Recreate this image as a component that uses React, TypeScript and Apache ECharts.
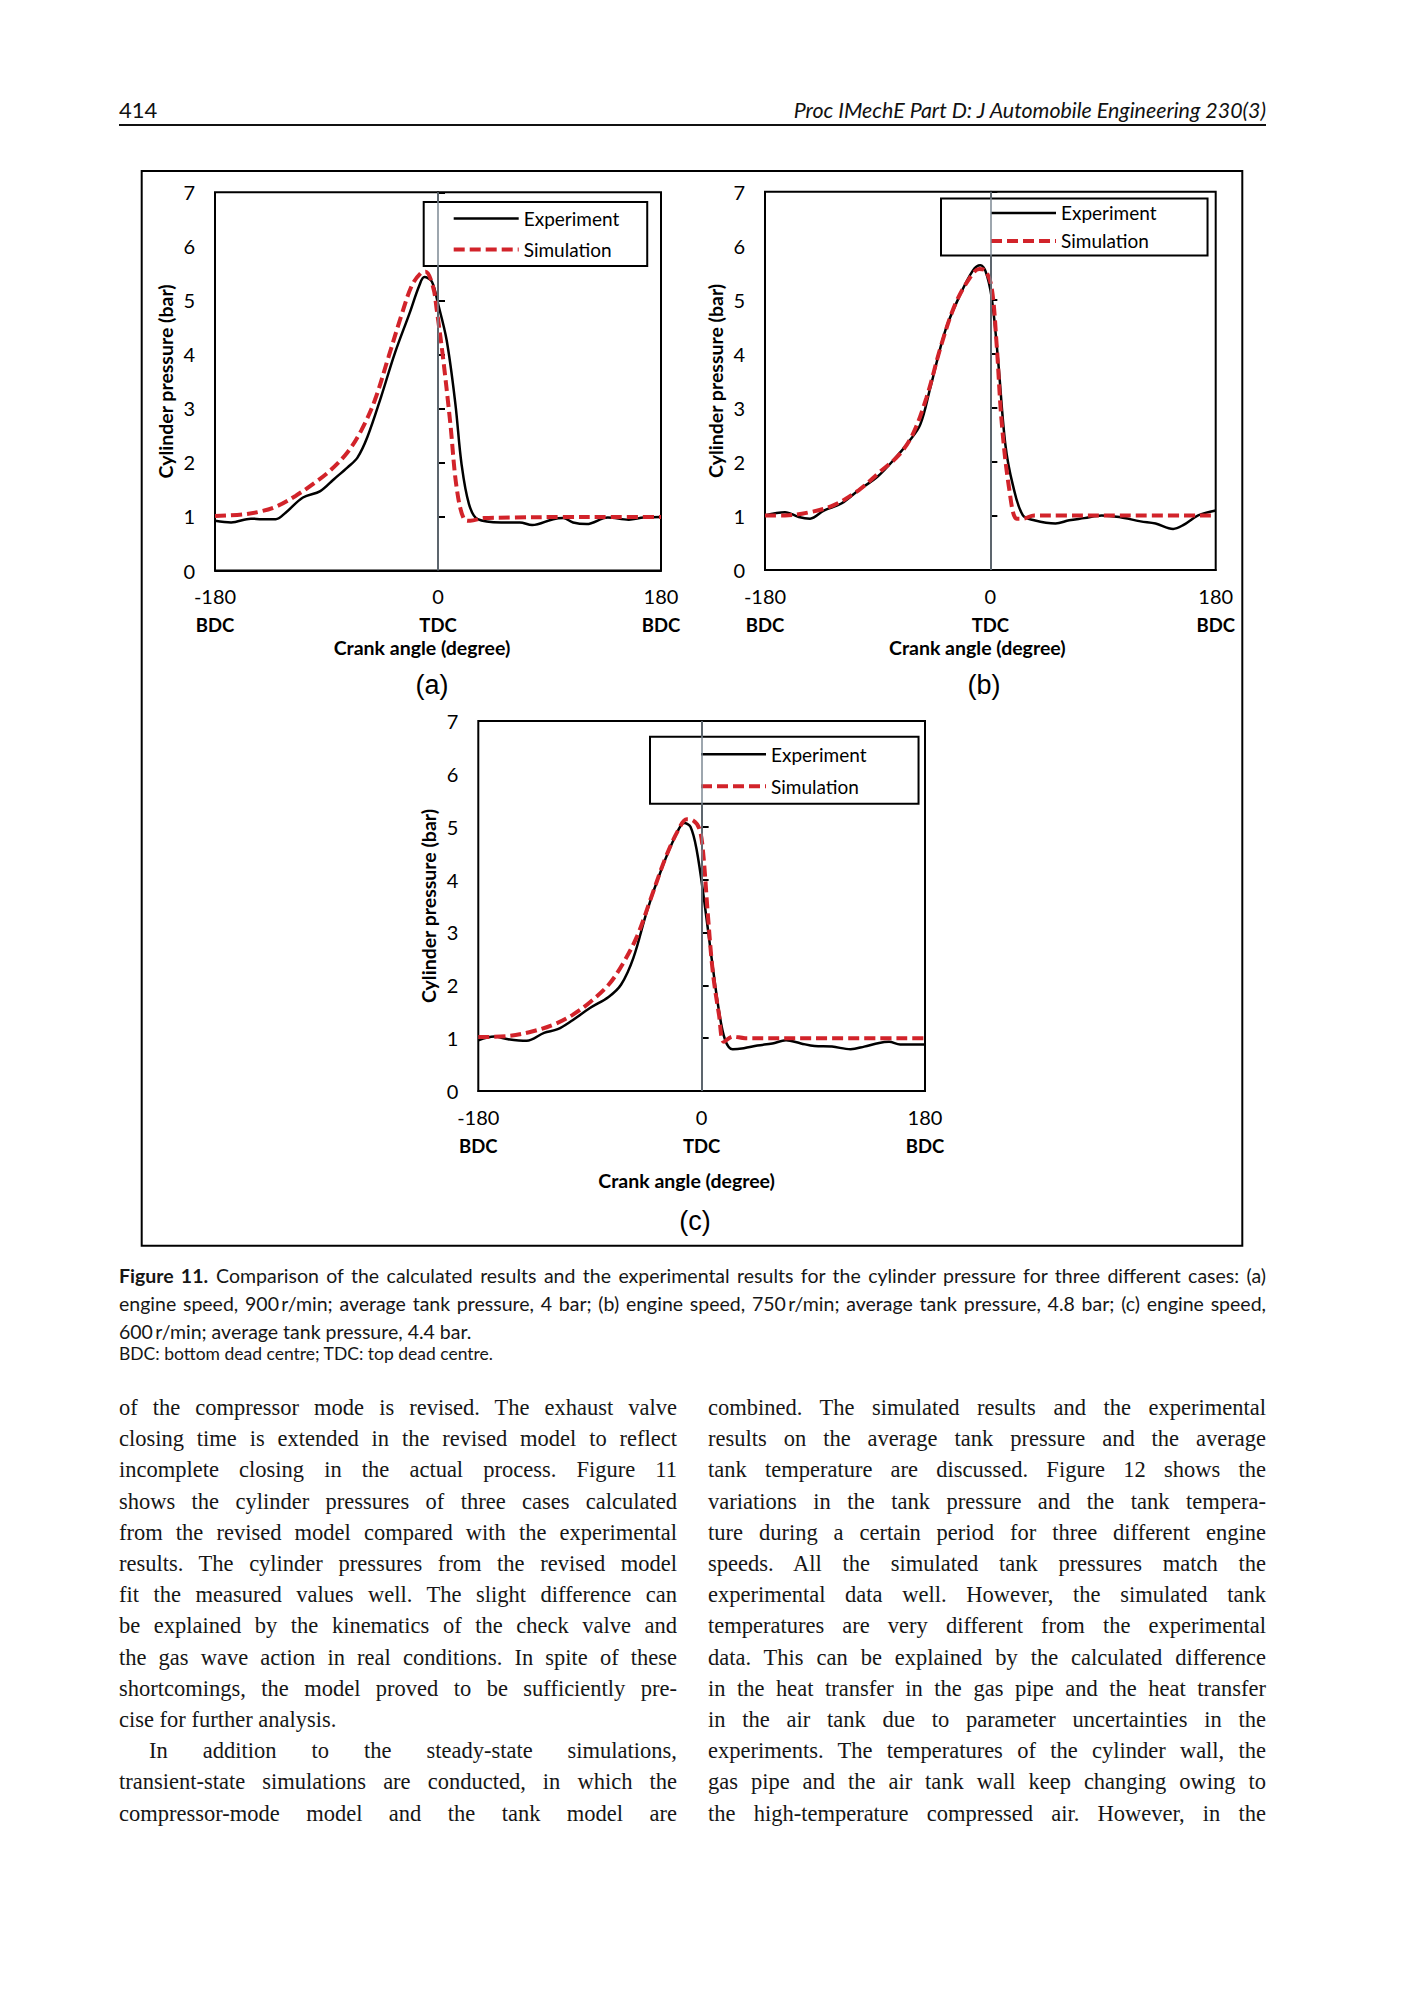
import React, { useEffect, useRef } from "react";
import * as echarts from "echarts";

// ---------- data ----------
const SERIES_NAMES = ["Experiment", "Simulation"];
const X_TICKS = [-180, 0, 180];
const X_TICK_NOTES = ["BDC", "TDC", "BDC"];
const PANEL_LABELS = ["(a)", "(b)", "(c)"];
const X_NAME = "Crank angle (degree)";
const Y_NAME = "Cylinder pressure (bar)";

// (a) 900 r/min
const expAngleA = [-180, -167, -151, -142, -131, -123, -109, -95, -84, -73, -65, -57, -46, -35, -23, -15, -11, -5, 0, 7, 14, 19, 25, 32, 51, 66, 76, 93, 101, 109, 120, 137, 154, 166, 180];
const expValueA = [0.92, 0.89, 0.96, 0.95, 0.95, 1.07, 1.35, 1.47, 1.69, 1.91, 2.09, 2.47, 3.21, 4.01, 4.76, 5.28, 5.43, 5.35, 4.94, 4.26, 3.09, 1.97, 1.23, 0.95, 0.89, 0.89, 0.84, 0.95, 0.97, 0.89, 0.86, 0.98, 0.94, 0.98, 0.99];
const simAngleA = [-180, -157, -142, -129, -115, -101, -87, -73, -62, -51, -40, -29, -21, -14, -10, -4, -1, 4, 10, 15, 21, 26, 37, 60, 100, 140, 180];
const simValueA = [1.01, 1.04, 1.1, 1.2, 1.38, 1.6, 1.85, 2.19, 2.59, 3.15, 3.95, 4.76, 5.28, 5.5, 5.53, 5.25, 4.82, 3.95, 2.71, 1.54, 0.95, 0.92, 0.97, 0.98, 0.99, 0.99, 0.99];

// (b) 750 r/min
const expAngleB = [-180, -164, -153, -144, -133, -119, -105, -90, -76, -65, -56, -48, -36, -25, -14, -8, -4, 1, 6, 12, 18, 26, 35, 52, 63, 75, 89, 103, 120, 132, 146, 154, 166, 180];
const expValueB = [1.01, 1.07, 0.98, 0.95, 1.1, 1.23, 1.48, 1.73, 2.07, 2.38, 2.69, 3.37, 4.43, 5.05, 5.54, 5.64, 5.54, 5.05, 3.93, 2.32, 1.57, 1.01, 0.92, 0.86, 0.92, 0.96, 1.01, 0.98, 0.9, 0.86, 0.76, 0.83, 1.01, 1.1];
const simAngleB = [-180, -164, -144, -125, -105, -88, -73, -62, -51, -39, -28, -16, -9, -4, 1, 5, 9, 15, 21, 26, 35, 60, 120, 180];
const simValueB = [1.01, 1.01, 1.07, 1.2, 1.48, 1.82, 2.13, 2.51, 3.19, 4.18, 4.92, 5.42, 5.57, 5.54, 5.23, 4.18, 2.75, 1.51, 0.95, 0.95, 1.01, 1.01, 1.01, 1.01];

// (c) 600 r/min
const expAngleC = [-180, -167, -156, -141, -127, -116, -104, -90, -75, -65, -55, -44, -32, -21, -14, -9, -4, 2, 8, 14, 19, 25, 34, 45, 57, 68, 80, 91, 105, 120, 131, 143, 151, 160, 180];
const expValueC = [0.96, 1.03, 0.98, 0.95, 1.1, 1.17, 1.34, 1.57, 1.78, 2.01, 2.52, 3.41, 4.22, 4.83, 5.07, 5.0, 4.56, 3.61, 2.52, 1.51, 0.96, 0.79, 0.81, 0.86, 0.9, 0.96, 0.9, 0.85, 0.84, 0.79, 0.84, 0.91, 0.93, 0.88, 0.88];
const simAngleC = [-180, -156, -136, -118, -104, -90, -75, -64, -52, -41, -29, -19, -12, -7, -2, 1, 5, 9, 14, 18, 25, 35, 90, 180];
const simValueC = [1.02, 1.04, 1.13, 1.27, 1.44, 1.68, 2.01, 2.39, 2.93, 3.64, 4.42, 4.93, 5.14, 5.12, 4.97, 4.56, 3.34, 2.25, 1.44, 0.93, 1.03, 1.0, 1.0, 1.0];

const HEADER_LEFT = "414";
const HEADER_RIGHT = "Proc IMechE Part D: J Automobile Engineering 230(3)";
const CAPTION_LINES = [
  "Comparison of the calculated results and the experimental results for the cylinder pressure for three different cases: (a)",
  "engine speed, 900\u2009r/min; average tank pressure, 4 bar; (b) engine speed, 750\u2009r/min; average tank pressure, 4.8 bar; (c) engine speed,",
  "600\u2009r/min; average tank pressure, 4.4 bar.",
];
const CAPTION_NOTE = "BDC: bottom dead centre; TDC: top dead centre.";
const LEFT_COLUMN = [
  "of the compressor mode is revised. The exhaust valve",
  "closing time is extended in the revised model to reflect",
  "incomplete closing in the actual process. Figure 11",
  "shows the cylinder pressures of three cases calculated",
  "from the revised model compared with the experimental",
  "results. The cylinder pressures from the revised model",
  "fit the measured values well. The slight difference can",
  "be explained by the kinematics of the check valve and",
  "the gas wave action in real conditions. In spite of these",
  "shortcomings, the model proved to be sufficiently pre-",
  "cise for further analysis.",
  "In addition to the steady-state simulations,",
  "transient-state simulations are conducted, in which the",
  "compressor-mode model and the tank model are",
];
const RIGHT_COLUMN = [
  "combined. The simulated results and the experimental",
  "results on the average tank pressure and the average",
  "tank temperature are discussed. Figure 12 shows the",
  "variations in the tank pressure and the tank tempera-",
  "ture during a certain period for three different engine",
  "speeds. All the simulated tank pressures match the",
  "experimental data well. However, the simulated tank",
  "temperatures are very different from the experimental",
  "data. This can be explained by the calculated difference",
  "in the heat transfer in the gas pipe and the heat transfer",
  "in the air tank due to parameter uncertainties in the",
  "experiments. The temperatures of the cylinder wall, the",
  "gas pipe and the air tank wall keep changing owing to",
  "the high-temperature compressed air. However, in the",
];

// ---------- layout ----------
const FONT = "Lato, 'Open Sans', sans-serif";
const RED = "#d2232a";
const TICK_SIZE = 20;
const TITLE_SIZE = 19.5;
const LEGEND_SIZE = 19;
const PANELS = [
  {
    grid: { left: 215, top: 192.3, width: 446, height: 378.2 },
    nameGap: 67, namePad: 32,
    legend: { left: 423.7, top: 202, gap: 12, pad: [7, 28, 7, 28] },
    label: [432, 685],
    exp: [expAngleA, expValueA], sim: [simAngleA, simValueA],
  },
  {
    grid: { left: 765, top: 191.7, width: 450.7, height: 378.3 },
    nameGap: 67, namePad: 26,
    legend: { left: 941, top: 198.4, gap: 9, pad: [5, 51, 5, 48] },
    label: [984, 685],
    exp: [expAngleB, expValueB], sim: [simAngleB, simValueB],
  },
  {
    grid: { left: 478.3, top: 721, width: 446.7, height: 370 },
    nameGap: 79, namePad: 30,
    legend: { left: 650, top: 736.8, gap: 13, pad: [8, 52, 8, 49] },
    label: [695, 1221],
    exp: [expAngleC, expValueC], sim: [simAngleC, simValueC],
  },
];

const pairs = (xs: number[], ys: number[]) => xs.map((x, i) => [x, ys[i]]);

function buildOption() {
  const grid: any[] = [];
  const xAxis: any[] = [];
  const yAxis: any[] = [];
  const series: any[] = [];
  const legend: any[] = [];
  const graphic: any[] = [
    {
      type: "rect",
      shape: { x: 141.7, y: 171, width: 1100.6, height: 1074.7 },
      style: { fill: "none", stroke: "#000", lineWidth: 2 },
      silent: true,
    },
  ];
  PANELS.forEach((p, i) => {
    grid.push({ ...p.grid, show: true, borderColor: "#000", borderWidth: 2, backgroundColor: "transparent" });
    xAxis.push({
      type: "value", gridIndex: i, min: -180, max: 180, interval: 180,
      axisLine: { show: true, lineStyle: { color: "#000", width: 2 } },
      axisTick: { show: false }, splitLine: { show: false },
      axisLabel: {
        showMinLabel: true, showMaxLabel: true, margin: 11,
        formatter: (v: number) => `{n|${v}}\n{b|${X_TICK_NOTES[X_TICKS.indexOf(v)]}}`,
        rich: {
          n: { fontSize: TICK_SIZE, fontFamily: FONT, color: "#000", lineHeight: 29 },
          b: { fontSize: 18.5, fontFamily: FONT, fontWeight: "bold", color: "#000", lineHeight: 29 },
        },
      },
      name: X_NAME, nameLocation: "middle", nameGap: p.nameGap,
      nameTextStyle: { fontSize: TITLE_SIZE, fontFamily: FONT, fontWeight: "bold", color: "#000", padding: [0, p.namePad, 0, 0] },
    });
    yAxis.push({
      type: "value", gridIndex: i, min: 0, max: 7, interval: 1,
      axisLine: { show: true, lineStyle: { color: "#000", width: 2 } },
      axisTick: { show: true, inside: true, length: 7, lineStyle: { color: "#000", width: 2 } },
      splitLine: { show: false },
      axisLabel: { fontSize: TICK_SIZE, fontFamily: FONT, color: "#000", margin: 20, showMinLabel: true, showMaxLabel: true },
      name: Y_NAME, nameLocation: "middle", nameGap: 40,
      nameTextStyle: { fontSize: TITLE_SIZE, fontFamily: FONT, fontWeight: "bold", color: "#000" },
    });
    series.push({
      type: "line", name: SERIES_NAMES[0], xAxisIndex: i, yAxisIndex: i,
      data: pairs(p.exp[0], p.exp[1]), symbol: "none", showSymbol: false, smooth: 0.35,
      lineStyle: { color: "#000", width: 2.5 }, itemStyle: { color: "#000" },
      markLine: {
        silent: true, symbol: ["none", "none"], label: { show: false },
        lineStyle: { color: "#7c8893", width: 1.5, type: "solid" },
        data: [{ xAxis: 0 }],
      },
      z: 3,
    });
    series.push({
      type: "line", name: SERIES_NAMES[1], xAxisIndex: i, yAxisIndex: i,
      data: pairs(p.sim[0], p.sim[1]), symbol: "none", showSymbol: false, smooth: 0.35,
      lineStyle: { color: RED, width: 4, type: [11, 5] }, itemStyle: { color: RED },
      z: 4,
    });
    legend.push({
      data: [
        { name: SERIES_NAMES[0], itemStyle: { opacity: 0 }, lineStyle: { color: "#000", width: 2.5 } },
        { name: SERIES_NAMES[1], itemStyle: { opacity: 0 }, lineStyle: { color: RED, width: 4, type: [11, 5] } },
      ],
      left: p.legend.left, top: p.legend.top, orient: "vertical",
      itemWidth: 65, itemHeight: 14, itemGap: p.legend.gap,
      padding: p.legend.pad, borderColor: "#000", borderWidth: 2, borderRadius: 0,
      backgroundColor: "#fff", selectedMode: false,
      textStyle: { fontSize: LEGEND_SIZE, fontFamily: FONT, color: "#000" },
    });
    graphic.push({
      type: "text", x: p.label[0], y: p.label[1], silent: true,
      style: {
        text: PANEL_LABELS[i], fill: "#000", fontSize: 27,
        fontFamily: "'Liberation Sans', Arial, sans-serif", align: "center", verticalAlign: "middle",
      },
    });
  });
  return { animation: false, backgroundColor: "transparent", grid, xAxis, yAxis, series, legend, graphic };
}

const abs = (left: number, top: number, extra: React.CSSProperties = {}): React.CSSProperties => ({
  position: "absolute", left, top, margin: 0, ...extra,
});

function Line({ text, left, top, width, size, family, justify, height, bold }: any) {
  return (
    <div
      style={abs(left, top, {
        width, height, lineHeight: `${height}px`, fontSize: size, fontFamily: family,
        whiteSpace: "nowrap", textAlign: justify ? "justify" : "left",
        textAlignLast: justify ? "justify" : "left", color: "#161616",
      } as React.CSSProperties)}
    >
      {bold ? <b style={{ marginRight: 8 }}>{bold}</b> : null}
      {text}
    </div>
  );
}

export default function App() {
  const ref = useRef<HTMLDivElement>(null);
  useEffect(() => {
    const chart = echarts.init(ref.current!, undefined, { renderer: "svg" });
    chart.setOption(buildOption() as any);
    return () => chart.dispose();
  }, []);

  const serif = "'Liberation Serif', 'Times New Roman', serif";
  const BODY_TOP = 1408;
  const BODY_STEP = 31.2;
  const BODY_H = 30;
  const leftJust = (i: number) => i !== 10;

  return (
    <div style={{ position: "absolute", left: 0, top: 0, width: 1414, height: 2000, background: "#fff", overflow: "hidden" }}>
      <div ref={ref} style={{ position: "absolute", left: 0, top: 0, width: 1414, height: 1262 }} />
      {/* header */}
      <div style={abs(119, 97, { fontFamily: FONT, fontSize: 22, lineHeight: "26px", color: "#111" })}>{HEADER_LEFT}</div>
      <div style={abs(640, 97, { width: 626, textAlign: "right", fontFamily: FONT, fontStyle: "italic", fontSize: 21.4, lineHeight: "26px", color: "#111" })}>{HEADER_RIGHT}</div>
      <div style={abs(119, 124, { width: 1147, height: 2, background: "#111" })} />
      {/* caption */}
      {CAPTION_LINES.map((t, i) => (
        <Line key={"c" + i} text={t} bold={i === 0 ? "Figure 11." : undefined}
          left={119} top={1262 + i * 28} width={1147} height={28} size={19.5} family={FONT} justify={i < 2} />
      ))}
      <Line text={CAPTION_NOTE} left={119} top={1342} width={1147} height={24} size={17.5} family={FONT} justify={false} />
      {/* body */}
      {LEFT_COLUMN.map((t, i) => (
        <Line key={"l" + i} text={t} left={i === 11 ? 149 : 119} top={BODY_TOP - BODY_H / 2 + i * BODY_STEP}
          width={i === 11 ? 528 : 558} height={BODY_H} size={22.5} family={serif} justify={leftJust(i)} />
      ))}
      {RIGHT_COLUMN.map((t, i) => (
        <Line key={"r" + i} text={t} left={708} top={BODY_TOP - BODY_H / 2 + i * BODY_STEP}
          width={558} height={BODY_H} size={22.5} family={serif} justify={true} />
      ))}
    </div>
  );
}
